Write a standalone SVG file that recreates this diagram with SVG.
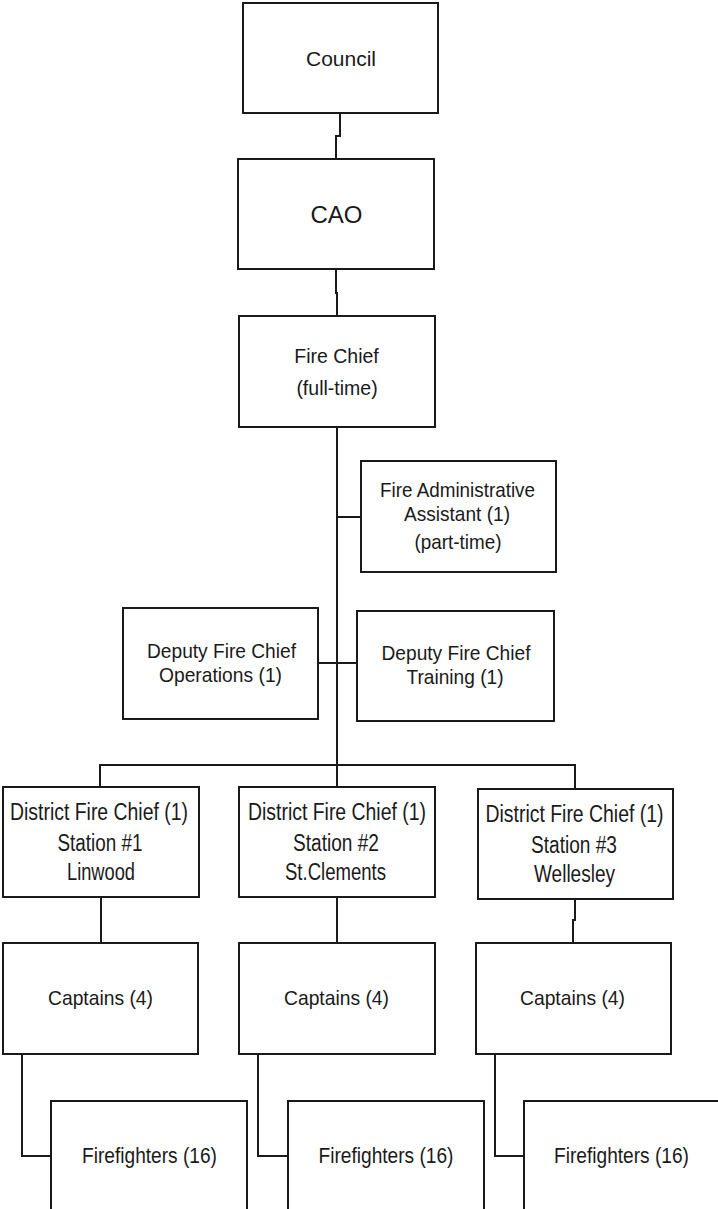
<svg xmlns="http://www.w3.org/2000/svg" width="718" height="1209" viewBox="0 0 718 1209">
<style>
.box{fill:#fff;stroke:#1a1a1a;stroke-width:2}
.ln{fill:none;stroke:#1a1a1a;stroke-width:2}
text{font-family:"Liberation Sans",Arial,sans-serif;fill:#1a1a1a;text-anchor:middle}
.f19{font-size:19.5px}
.f21{font-size:21px}
.f22{font-size:22px}
.f23{font-size:23px}
</style>
<rect width="718" height="1209" fill="#fff"/>
<g id="connectors">
<path class="ln" d="M340,113 V136 H336 V159"/>
<path class="ln" d="M336,269 V293 H337 V316"/>
<path class="ln" d="M337,427 V765"/>
<path class="ln" d="M337,517 H361"/>
<path class="ln" d="M318,663 H357"/>
<path class="ln" d="M100,787 V765 H575 V789"/>
<path class="ln" d="M337,765 V787"/>
<path class="ln" d="M101,897 V943"/>
<path class="ln" d="M337,897 V943"/>
<path class="ln" d="M575,899 V920 H573 V943"/>
<path class="ln" d="M22,1054 V1156 H51"/>
<path class="ln" d="M258,1054 V1156 H288"/>
<path class="ln" d="M495,1054 V1156 H524"/>
</g>
<g id="council">
<rect class="box" x="243" y="3" width="195" height="110"/>
<text class="f21" x="341" y="66">Council</text>
</g>
<g id="cao">
<rect class="box" x="238" y="159" width="196" height="110"/>
<text x="336.5" y="223" style="font-size:24px">CAO</text>
</g>
<g id="fire-chief">
<rect class="box" x="239" y="316" width="196" height="111"/>
<text class="f19" x="336.5" y="363">Fire Chief</text>
<text class="f19" x="337" y="395">(full-time)</text>
</g>
<g id="admin-assistant">
<rect class="box" x="361" y="461" width="195" height="111"/>
<text class="f21" x="457.5" y="497" textLength="155" lengthAdjust="spacingAndGlyphs">Fire Administrative</text>
<text class="f21" x="457" y="521" textLength="106" lengthAdjust="spacingAndGlyphs">Assistant (1)</text>
<text class="f21" x="458" y="549" textLength="87" lengthAdjust="spacingAndGlyphs">(part-time)</text>
</g>
<g id="deputy-operations">
<rect class="box" x="123" y="608" width="195" height="111"/>
<text class="f21" x="221.5" y="658" textLength="149" lengthAdjust="spacingAndGlyphs">Deputy Fire Chief</text>
<text class="f21" x="220.5" y="682" textLength="123" lengthAdjust="spacingAndGlyphs">Operations (1)</text>
</g>
<g id="deputy-training">
<rect class="box" x="357" y="611" width="197" height="110"/>
<text class="f21" x="456" y="660" textLength="149" lengthAdjust="spacingAndGlyphs">Deputy Fire Chief</text>
<text class="f21" x="455" y="684" textLength="97" lengthAdjust="spacingAndGlyphs">Training (1)</text>
</g>
<g id="district-1">
<rect class="box" x="3" y="787" width="196" height="110"/>
<text class="f23" x="99" y="820" textLength="178" lengthAdjust="spacingAndGlyphs">District Fire Chief (1)</text>
<text class="f23" x="100" y="851" textLength="85" lengthAdjust="spacingAndGlyphs">Station #1</text>
<text class="f23" x="101" y="880" textLength="68" lengthAdjust="spacingAndGlyphs">Linwood</text>
</g>
<g id="district-2">
<rect class="box" x="239" y="787" width="196" height="110"/>
<text class="f23" x="337" y="820" textLength="178" lengthAdjust="spacingAndGlyphs">District Fire Chief (1)</text>
<text class="f23" x="336" y="851" textLength="86" lengthAdjust="spacingAndGlyphs">Station #2</text>
<text class="f23" x="335.5" y="880" textLength="101" lengthAdjust="spacingAndGlyphs">St.Clements</text>
</g>
<g id="district-3">
<rect class="box" x="478" y="789" width="195" height="110"/>
<text class="f23" x="574.5" y="822" textLength="178" lengthAdjust="spacingAndGlyphs">District Fire Chief (1)</text>
<text class="f23" x="574" y="853" textLength="86" lengthAdjust="spacingAndGlyphs">Station #3</text>
<text class="f23" x="574.5" y="882" textLength="81" lengthAdjust="spacingAndGlyphs">Wellesley</text>
</g>
<g id="captains-1">
<rect class="box" x="3" y="943" width="195" height="111"/>
<text class="f21" x="100.5" y="1005" textLength="105" lengthAdjust="spacingAndGlyphs">Captains (4)</text>
</g>
<g id="captains-2">
<rect class="box" x="239" y="943" width="196" height="111"/>
<text class="f21" x="336.5" y="1005" textLength="105" lengthAdjust="spacingAndGlyphs">Captains (4)</text>
</g>
<g id="captains-3">
<rect class="box" x="476" y="943" width="195" height="111"/>
<text class="f21" x="572.5" y="1005" textLength="105" lengthAdjust="spacingAndGlyphs">Captains (4)</text>
</g>
<g id="firefighters-1">
<rect class="box" x="51" y="1101" width="196" height="130"/>
<text class="f22" x="149.5" y="1163" textLength="135" lengthAdjust="spacingAndGlyphs">Firefighters (16)</text>
</g>
<g id="firefighters-2">
<rect class="box" x="288" y="1101" width="196" height="130"/>
<text class="f22" x="386" y="1163" textLength="135" lengthAdjust="spacingAndGlyphs">Firefighters (16)</text>
</g>
<g id="firefighters-3">
<rect class="box" x="524" y="1101" width="210" height="130"/>
<text class="f22" x="621.5" y="1163" textLength="135" lengthAdjust="spacingAndGlyphs">Firefighters (16)</text>
</g>
</svg>
